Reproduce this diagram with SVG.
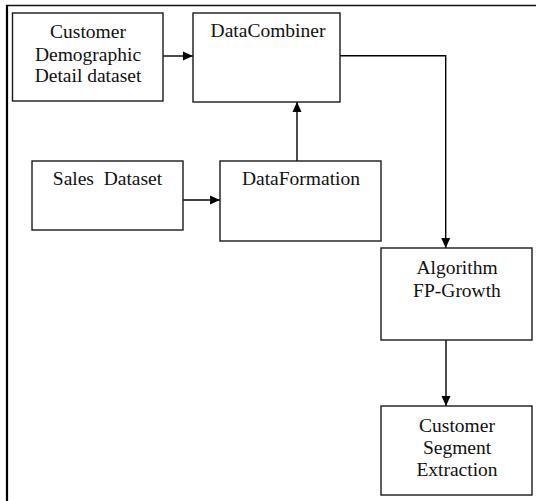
<svg xmlns="http://www.w3.org/2000/svg" width="536" height="501" viewBox="0 0 536 501">
<style>
.box{fill:#fff;stroke:#1a1a1a;stroke-width:1.4}
.c{fill:none;stroke:#000;stroke-width:1.4}
</style>
<defs>
<marker id="ah" viewBox="0 0 10 10" refX="10" refY="5" markerWidth="10" markerHeight="10" markerUnits="userSpaceOnUse" orient="auto">
<path d="M0,0.5 L10,5 L0,9.5 Z" fill="#000"/>
</marker>
</defs>
<rect width="536" height="501" fill="#fff"/>
<g id="frame">
<line x1="6" y1="5.5" x2="536" y2="5.5" stroke="#111" stroke-width="1.6"/>
<line x1="7" y1="5" x2="7" y2="501" stroke="#000" stroke-width="2.2"/>
</g>
<g id="connectors">
<line class="c" x1="163" y1="56" x2="193" y2="56" marker-end="url(#ah)"/>
<line class="c" x1="297" y1="161" x2="297" y2="102" marker-end="url(#ah)"/>
<polyline class="c" points="340,55.7 445.7,55.7 445.7,248" marker-end="url(#ah)"/>
<line class="c" x1="183" y1="200" x2="220" y2="200" marker-end="url(#ah)"/>
<line class="c" x1="446" y1="340" x2="446" y2="406" marker-end="url(#ah)"/>
</g>
<g font-family="Liberation Serif" font-size="19.5" text-anchor="middle" fill="#111">
<g id="customer-demographic">
<rect class="box" x="12.5" y="13" width="150.5" height="88"/>
<text x="88" y="38">Customer</text>
<text x="88" y="60.5">Demographic</text>
<text x="88" y="82">Detail dataset</text>
</g>
<g id="data-combiner">
<rect class="box" x="193" y="13" width="147" height="89"/>
<text x="268" y="37.3">DataCombiner</text>
</g>
<g id="sales-dataset">
<rect class="box" x="32" y="161" width="151" height="69"/>
<text x="107.5" y="185">Sales&#160; Dataset</text>
</g>
<g id="data-formation">
<rect class="box" x="220" y="161" width="161" height="80"/>
<text x="301" y="185.3">DataFormation</text>
</g>
<g id="algorithm">
<rect class="box" x="381" y="248" width="151" height="92"/>
<text x="457" y="274.3">Algorithm</text>
<text x="457" y="296.7">FP-Growth</text>
</g>
<g id="segment-extraction">
<rect class="box" x="381" y="406" width="151" height="89"/>
<text x="457" y="431.7">Customer</text>
<text x="457" y="454">Segment</text>
<text x="457" y="476">Extraction</text>
</g>
</g>
</svg>
